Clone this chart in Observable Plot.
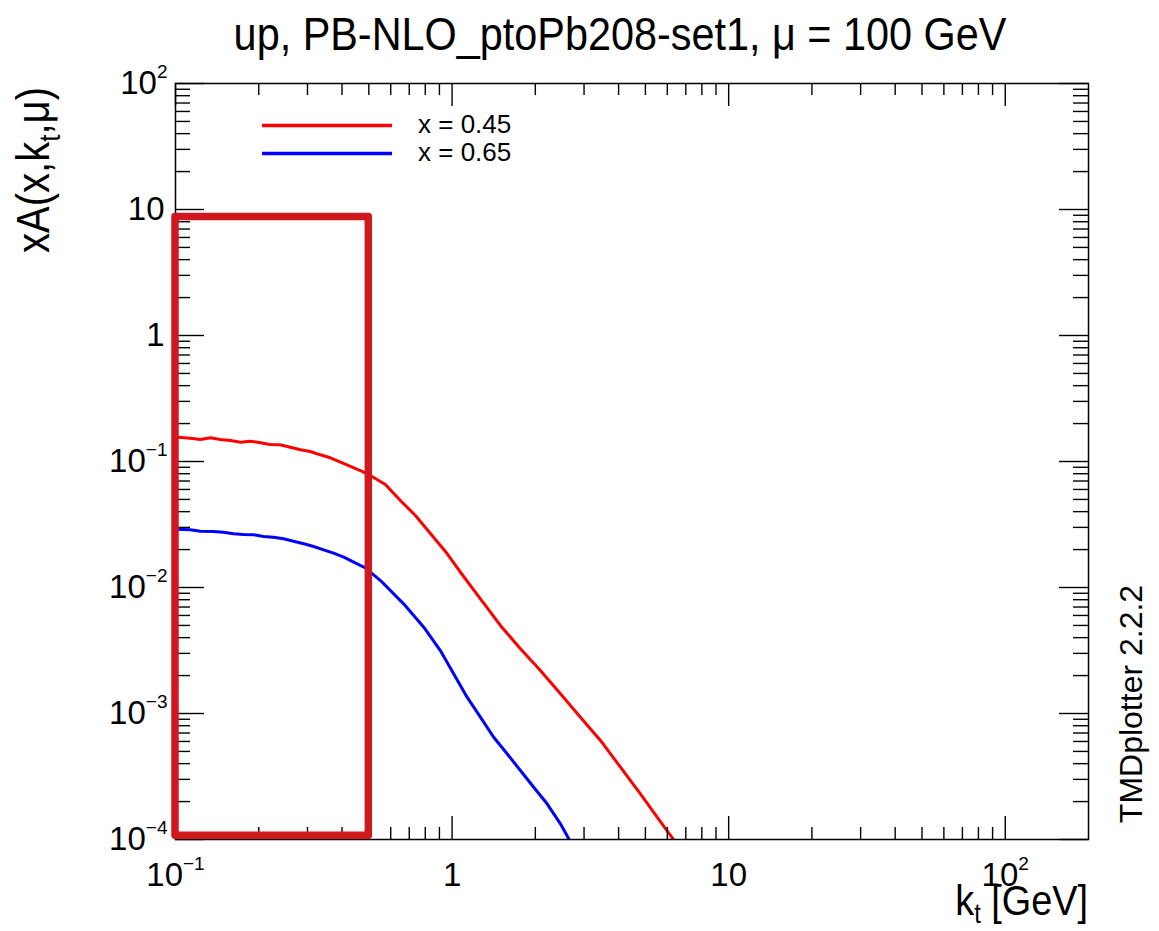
<!DOCTYPE html>
<html><head><meta charset="utf-8">
<script src="https://cdn.jsdelivr.net/npm/d3@7"></script>
<script src="https://cdn.jsdelivr.net/npm/@observablehq/plot@0.6"></script>
<style>
body{margin:0;background:#fff;}
#wrap{position:relative;width:1159px;height:931px;font-family:"Liberation Sans",Arial,Helvetica,sans-serif;}
#wrap > svg{position:absolute;left:0;top:0;}
</style></head><body><div id="wrap"></div>
<script>
// ---- data ----
const ktRed = [0.100,0.113,0.123,0.134,0.145,0.158,0.172,0.186,0.203,0.220,0.239,0.260,0.283,0.307,0.334,0.363,0.395,0.429,0.466,0.499,0.574,0.650,0.737,0.835,0.959,1.072,1.266,1.495,1.766,2.086,2.465,2.911,3.439,4.062,4.797,5.513,6.330,6.50];
const xaRed = [0.1565,0.1531,0.1495,0.1542,0.1495,0.1468,0.1423,0.1449,0.1408,0.1364,0.1357,0.1299,0.1238,0.1201,0.1130,0.1070,0.0987,0.0913,0.0848,0.0788,0.0657,0.0490,0.0373,0.0268,0.0186,0.01322,0.00813,0.00500,0.00326,0.00219,0.001433,0.000935,0.000611,0.000375,0.0002305,0.0001503,0.0000995,0.000092];
const ktBlue = [0.100,0.113,0.123,0.137,0.149,0.162,0.176,0.192,0.208,0.226,0.246,0.267,0.291,0.316,0.343,0.373,0.406,0.441,0.486,0.551,0.668,0.790,0.907,1.013,1.133,1.266,1.414,1.581,1.766,1.973,2.206,2.465,2.641,2.70];
const xaBlue = [0.02897,0.02870,0.02797,0.02782,0.02747,0.02668,0.02634,0.02620,0.02540,0.02507,0.02435,0.02330,0.02222,0.02116,0.01991,0.01872,0.01740,0.01588,0.01433,0.01136,0.00742,0.00484,0.00316,0.002066,0.001347,0.000935,0.000648,0.000479,0.000353,0.000260,0.000192,0.0001332,0.0001013,0.000090];
const seriesNames = ["x = 0.45", "x = 0.65"];
const seriesColors = ["#ff0000", "#0000ff"];
const xTicks = [0.1, 1, 10, 100];
const xTickLabels = ["10^\u22121", "1", "10", "10^2"];
const yTicks = [100, 10, 1, 0.1, 0.01, 0.001, 0.0001];
const yTickLabels = ["10^2", "10", "1", "10^\u22121", "10^\u22122", "10^\u22123", "10^\u22124"];
const xDomain = [0.1, 200];
const yDomain = [1e-4, 100];
const boxX = [0.1, 0.5];
const boxY = [1.07e-4, 8.7];
const titleText = "up, PB-NLO_ptoPb208-set1, \u03bc = 100 GeV";
const watermark = "TMDplotter 2.2.2";

// ---- build ----
const W = 1159, H = 931, mL = 175, mR = 71, mT = 83, mB = 92;
const innerW = W - mL - mR, innerH = H - mT - mB;
const data = [
  ...ktRed.map((k, i) => ({kt: k, xa: xaRed[i], series: seriesNames[0]})),
  ...ktBlue.map((k, i) => ({kt: k, xa: xaBlue[i], series: seriesNames[1]}))
];
function minorTicks(domain) {
  const out = [];
  for (let e = Math.floor(Math.log10(domain[0])); e <= Math.ceil(Math.log10(domain[1])); e++)
    for (let k = 2; k <= 9; k++) { const v = k * Math.pow(10, e); if (v > domain[0] && v < domain[1]) out.push(v); }
  return out;
}
const xMinor = minorTicks(xDomain), yMinor = minorTicks(yDomain);
const tk = {stroke: "#000", strokeWidth: 1.4};
const xMajLen = 23, xMinLen = 12, yMajLen = 29, yMinLen = 15;
const expY = yTicks.filter((d, i) => yTickLabels[i].includes("^"));
const plainY = yTicks.filter((d, i) => !yTickLabels[i].includes("^"));
const yLab = d => yTickLabels[yTicks.indexOf(d)];
const tickFont = 33;

const chart = Plot.plot({
  width: W, height: H, marginLeft: mL, marginRight: mR, marginTop: mT, marginBottom: mB,
  x: {type: "log", domain: xDomain, axis: null},
  y: {type: "log", domain: yDomain, axis: null},
  color: {domain: seriesNames, range: seriesColors},
  style: {fontFamily: "Liberation Sans, Arial, sans-serif", background: "transparent", color: "#000"},
  marks: [
    Plot.line(data, {x: "kt", y: "xa", z: "series", stroke: "series", strokeWidth: 3, clip: true}),
    Plot.ruleX(xTicks, {...tk, insetTop: innerH - xMajLen}),
    Plot.ruleX(xTicks, {...tk, insetBottom: innerH - xMajLen}),
    Plot.ruleX(xMinor, {...tk, insetTop: innerH - xMinLen}),
    Plot.ruleX(xMinor, {...tk, insetBottom: innerH - xMinLen}),
    Plot.ruleY(yTicks, {...tk, insetRight: innerW - yMajLen}),
    Plot.ruleY(yTicks, {...tk, insetLeft: innerW - yMajLen}),
    Plot.ruleY(yMinor, {...tk, insetRight: innerW - yMinLen}),
    Plot.ruleY(yMinor, {...tk, insetLeft: innerW - yMinLen}),
    Plot.frame({stroke: "#000", strokeWidth: 1.5}),
    Plot.rect([{x1: boxX[0], x2: boxX[1], y1: boxY[0], y2: boxY[1]}], {x1: "x1", x2: "x2", y1: "y1", y2: "y2", fill: "none", stroke: "#d0181f", strokeWidth: 7.5, strokeLinejoin: "round"}),
    Plot.text(xTicks, {x: d => d, text: (d, i) => xTickLabels[i], frameAnchor: "bottom", dy: 36, fontSize: tickFont, textAnchor: "middle", lineAnchor: "middle", fill: "#000"}),
    Plot.text(expY, {y: d => d, text: yLab, frameAnchor: "left", dx: -8, fontSize: tickFont, textAnchor: "end", lineAnchor: "middle", fill: "#000"}),
    Plot.text(plainY, {y: d => d, text: yLab, frameAnchor: "left", dx: -11, fontSize: tickFont, textAnchor: "end", lineAnchor: "middle", fill: "#000"})
  ]
});
const NS = "http://www.w3.org/2000/svg";
chart.querySelectorAll("text").forEach(t => {
  const m = t.textContent.match(/^(.*)\^(.*)$/);
  if (m) {
    t.textContent = m[1];
    const sp = document.createElementNS(NS, "tspan");
    sp.setAttribute("dy", "-16");
    sp.setAttribute("font-size", "19");
    sp.textContent = m[2];
    t.appendChild(sp);
  }
});
document.getElementById("wrap").appendChild(chart);

// ---- overlay texts: title, axis titles, legend, watermark ----
const legendRows = seriesNames.map((n, i) => {
  const y = 125.5 + i * 28;
  return `<line x1="262" x2="392" y1="${y}" y2="${y}" stroke="${seriesColors[i]}" stroke-width="3.5"/>
  <text x="418" y="${y + 7}" font-size="26" fill="#000">${n}</text>`;
}).join("");
const ov = `<svg xmlns="${NS}" width="${W}" height="${H}" font-family="Liberation Sans, Arial, sans-serif" fill="#000">
 <text transform="translate(620,50) scale(0.9,1)" text-anchor="middle" font-size="46">${titleText}</text>
 <text transform="translate(49,170) rotate(-90) scale(0.87,1)" text-anchor="middle" font-size="46">xA(x,k<tspan dy="11" font-size="30">t</tspan><tspan dy="-11">,\u03bc)</tspan></text>
 <text transform="translate(1088,915) scale(0.88,1)" text-anchor="end" font-size="43">k<tspan dy="8" font-size="27">t</tspan><tspan dy="-8"> [GeV]</tspan></text>
 <text transform="translate(1142,704) rotate(-90)" text-anchor="middle" font-size="32">${watermark}</text>
 ${legendRows}
</svg>`;
document.getElementById("wrap").insertAdjacentHTML("beforeend", ov);
</script></body></html>
